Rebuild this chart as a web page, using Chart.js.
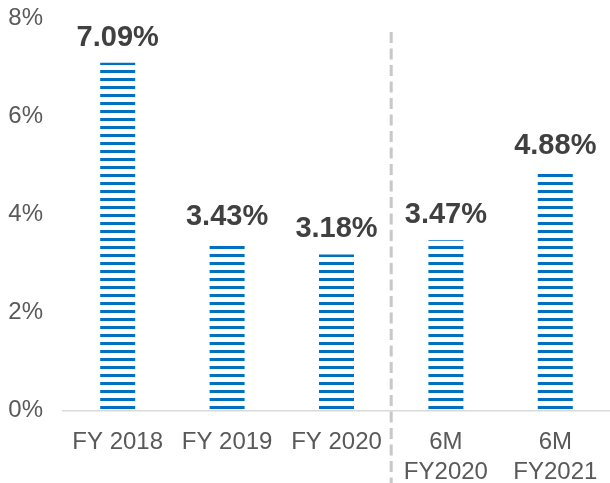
<!DOCTYPE html>
<html>
<head>
<meta charset="utf-8">
<script src="https://cdn.jsdelivr.net/npm/chart.js@4"></script>
<style>
  html, body { margin: 0; padding: 0; background: #fff; }
  #wrap { width: 610px; height: 483px; }
</style>
</head>
<body>
<div id="wrap"><canvas id="rate-chart" width="610" height="483"></canvas></div>
<script>
const categories = ['FY 2018', 'FY 2019', 'FY 2020', ['6M', 'FY2020'], ['6M', 'FY2021']];
const rates = [7.09, 3.43, 3.18, 3.47, 4.88];
const yTicks = [0, 2, 4, 6, 8];
const dividerAfter = 2; // dashed separator after the third category

// horizontal stripe fill, anchored to the canvas so stripes line up across bars
function makeStripes() {
  const tile = document.createElement('canvas');
  tile.width = 8;
  tile.height = 8;
  const t = tile.getContext('2d');
  t.fillStyle = '#0070C0';
  t.fillRect(0, 0, 8, 1);
  t.fillRect(0, 6, 8, 2);
  return document.getElementById('rate-chart').getContext('2d').createPattern(tile, 'repeat');
}

const valueLabels = {
  id: 'valueLabels',
  afterDatasetsDraw(chart) {
    const ctx = chart.ctx;
    const meta = chart.getDatasetMeta(0);
    ctx.save();
    ctx.font = 'bold 29px "Liberation Sans", Arial, sans-serif';
    ctx.fillStyle = '#404040';
    ctx.textAlign = 'center';
    ctx.textBaseline = 'alphabetic';
    meta.data.forEach((bar, i) => {
      ctx.fillText(rates[i].toFixed(2) + '%', bar.x, bar.y - 17);
    });
    ctx.restore();
  }
};

const divider = {
  id: 'divider',
  afterDraw(chart) {
    const x = chart.scales.x;
    const px = (x.getPixelForValue(dividerAfter) + x.getPixelForValue(dividerAfter + 1)) / 2;
    const ctx = chart.ctx;
    ctx.save();
    ctx.strokeStyle = '#c8c8c8';
    ctx.lineWidth = 3;
    ctx.setLineDash([11, 5.5]);
    ctx.beginPath();
    ctx.moveTo(px, 32);
    ctx.lineTo(px, chart.height);
    ctx.stroke();
    ctx.restore();
  }
};

new Chart(document.getElementById('rate-chart'), {
  type: 'bar',
  data: {
    labels: categories,
    datasets: [{
      data: rates,
      backgroundColor: makeStripes(),
      borderWidth: 0,
      barPercentage: 0.64,
      categoryPercentage: 0.5
    }]
  },
  options: {
    responsive: false,
    animation: false,
    layout: { padding: { top: 18, right: 0, bottom: 0, left: 0 } },
    plugins: { legend: { display: false }, tooltip: { enabled: false } },
    scales: {
      x: {
        grid: { display: false, drawTicks: false },
        border: { display: true, color: '#d9d9d9', width: 1.5 },
        ticks: {
          color: '#595959',
          font: { family: '"Liberation Sans", Arial, sans-serif', size: 24, lineHeight: 1.25 },
          padding: 17,
          maxRotation: 0,
          autoSkip: false
        },
        afterFit(scale) {
          scale.height = 72.5;
          scale.paddingLeft = 0;
          scale.paddingRight = 0;
        }
      },
      y: {
        min: 0,
        max: 8,
        grid: { display: false, drawTicks: false },
        border: { display: false },
        afterBuildTicks(scale) { scale.ticks = yTicks.map(v => ({ value: v })); },
        ticks: {
          color: '#595959',
          font: { family: '"Liberation Sans", Arial, sans-serif', size: 24 },
          padding: 20,
          callback: v => v + '%'
        },
        afterFit(scale) {
          scale.width = 63;
          scale.paddingTop = 0;
          scale.paddingBottom = 0;
        }
      }
    }
  },
  plugins: [valueLabels, divider]
});
</script>
</body>
</html>
